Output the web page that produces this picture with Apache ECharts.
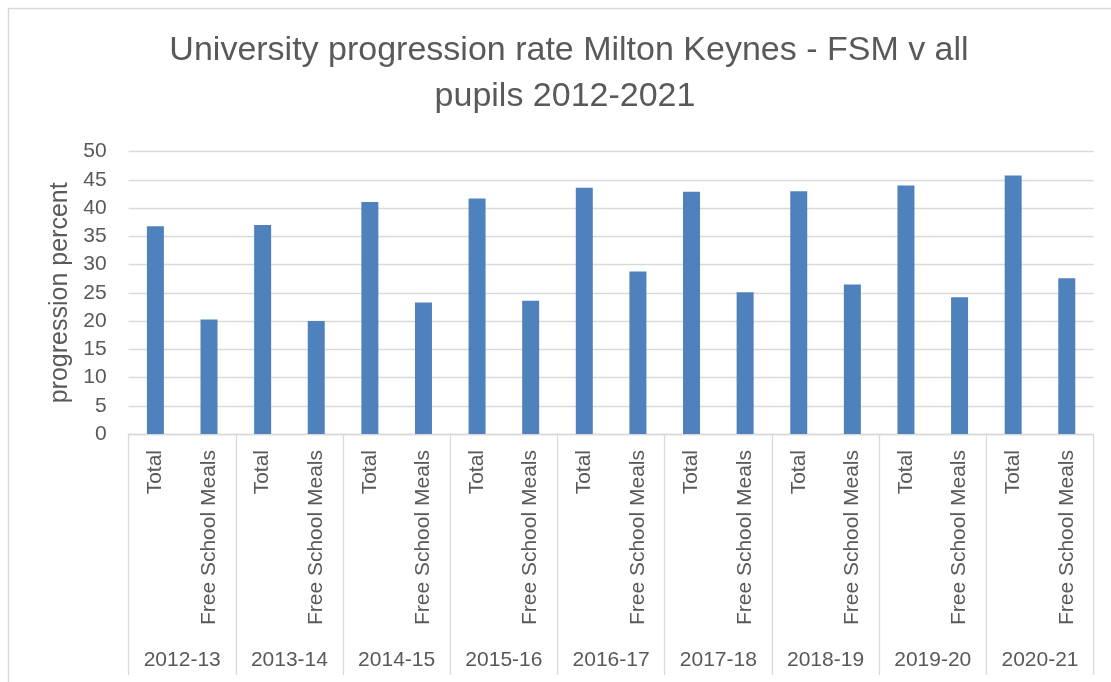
<!DOCTYPE html>
<html>
<head>
<meta charset="utf-8">
<script src="https://cdn.jsdelivr.net/npm/echarts@6/dist/echarts.min.js"></script>
<style>
  html, body { margin: 0; padding: 0; background: #fff; }
  #chart { width: 1111px; height: 682px; }
</style>
</head>
<body>
<div id="chart"></div>
<script>
// Academic years (outer category level)
const years = ['2012-13', '2013-14', '2014-15', '2015-16', '2016-17', '2017-18', '2018-19', '2019-20', '2020-21'];
// Pupil groups within each year (inner category level)
const groups = ['Total', 'Free School Meals'];
// University progression percent per year
const totalValues = [36.8, 37.0, 41.1, 41.7, 43.6, 42.9, 43.0, 44.0, 45.8];
const fsmValues = [20.3, 20.0, 23.3, 23.6, 28.8, 25.1, 26.5, 24.2, 27.6];
// Value axis ticks
const yMin = 0, yMax = 50, yStep = 5;

const FONT = '"Liberation Sans", Arial, sans-serif';
const TEXT = '#595959';
const LINE = '#d9d9d9';

// Flatten into one bar per (year, group)
const innerLabels = [];
const barValues = [];
years.forEach((y, i) => {
  innerLabels.push(groups[0]); barValues.push(totalValues[i]);
  innerLabels.push(groups[1]); barValues.push(fsmValues[i]);
});

const chart = echarts.init(document.getElementById('chart'));
chart.setOption({
  animation: false,
  backgroundColor: '#fff',
  grid: { left: 128.6, right: 17.4, top: 151.7, bottom: 248, containLabel: false },
  graphic: [
    { type: 'polyline', silent: true,
      shape: { points: [[8.5, 682], [8.5, 8.5], [1111, 8.5]] },
      style: { stroke: LINE, lineWidth: 1.5, fill: null } },
    { type: 'text', silent: true, x: 569, y: 51,
      style: { text: 'University progression rate Milton Keynes - FSM v all', font: '34px ' + FONT,
               fill: TEXT, align: 'center', verticalAlign: 'middle' } },
    { type: 'text', silent: true, x: 565, y: 97,
      style: { text: 'pupils 2012-2021', font: '34px ' + FONT,
               fill: TEXT, align: 'center', verticalAlign: 'middle' } }
  ],
  xAxis: [
    {
      type: 'category',
      data: innerLabels,
      position: 'bottom',
      axisLine: { show: true, lineStyle: { color: LINE, width: 1.3 } },
      axisTick: { show: false },
      axisLabel: { interval: 0, rotate: 90, margin: 16, fontSize: 21, fontFamily: FONT, color: TEXT }
    },
    {
      type: 'category',
      data: years,
      position: 'bottom',
      axisLine: { show: false },
      axisTick: { show: true, interval: 0, length: 241, lineStyle: { color: LINE, width: 1.3 } },
      axisLabel: { interval: 0, margin: 216, fontSize: 21, fontFamily: FONT, color: TEXT }
    }
  ],
  yAxis: {
    type: 'value',
    min: yMin, max: yMax, interval: yStep,
    name: 'progression percent',
    nameLocation: 'middle',
    nameRotate: 90,
    nameGap: 54,
    nameTextStyle: { fontSize: 25, fontFamily: FONT, color: TEXT },
    axisLine: { show: false },
    axisTick: { show: false },
    axisLabel: { margin: 22, fontSize: 21, fontFamily: FONT, color: TEXT },
    splitLine: { lineStyle: { color: LINE, width: 1.3 } }
  },
  series: [{
    type: 'bar',
    xAxisIndex: 0,
    data: barValues,
    barWidth: 17,
    itemStyle: { color: '#4F81BD' }
  }]
});
</script>
</body>
</html>
